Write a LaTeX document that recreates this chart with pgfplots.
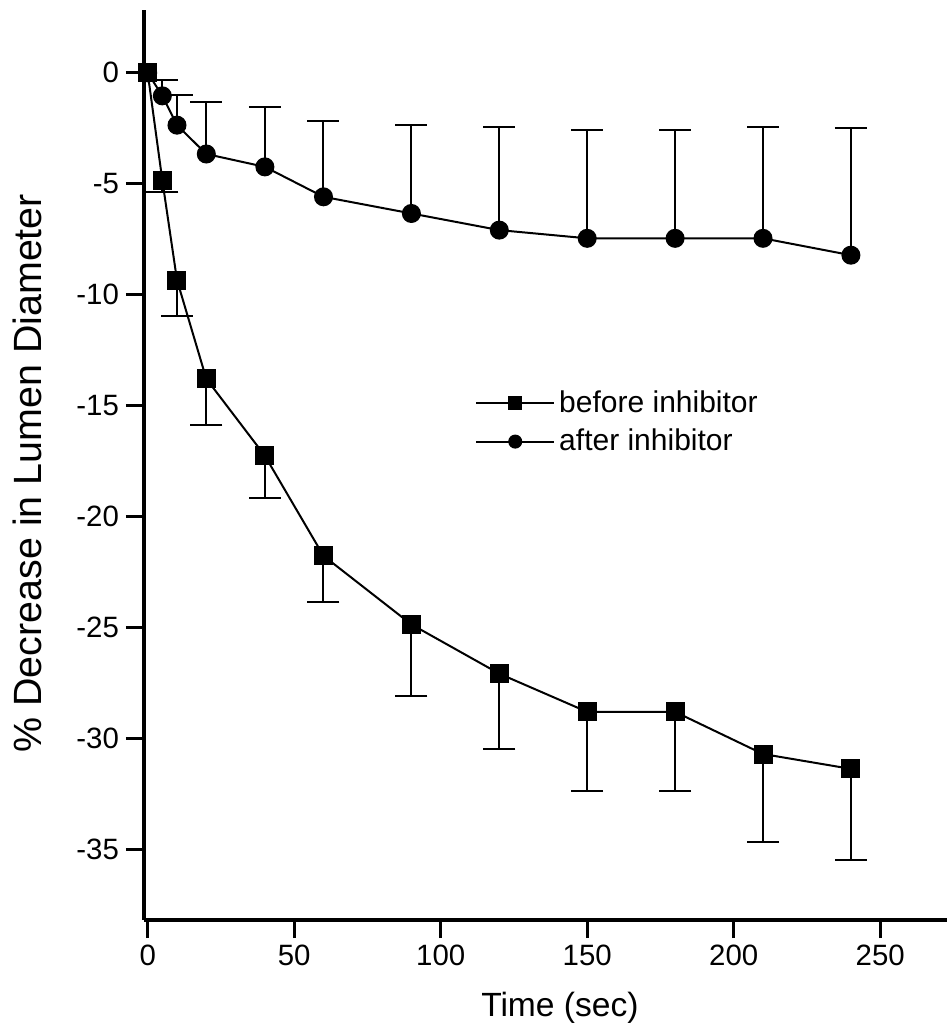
\documentclass[border=0pt]{standalone}
\usepackage{fontspec}
\setmainfont{Liberation Sans}
\usepackage{pgfplots}
\pgfplotsset{compat=1.18}
\begin{document}
\begin{tikzpicture}
\begin{axis}[
  scale only axis, width=401.5pt, height=455pt,
  xmin=-1.26, xmax=272.8, ymin=-38.18, ymax=2.83,
  axis lines=left,
  axis line style={-, line width=1.6pt},
  tick align=outside,
  major tick length=9pt,
  tick style={line width=1.5pt, black},
  xtick={0,50,...,250}, ytick={-35,-30,...,0},
  minor tick num=0,
  /pgf/number format/assume math mode=true,
  ticklabel style={font=\fontsize{14.7}{17}\selectfont},
  clip=false,
  xlabel={Time (sec)}, ylabel={\% Decrease in Lumen Diameter},
  xlabel style={font=\fontsize{16.8}{20}\selectfont, at={(axis description cs:0.518,-0.0967)}, anchor=center},
  ylabel style={font=\fontsize{19.7}{23}\selectfont, at={(axis description cs:-0.145,0.491)}, anchor=center},
  legend style={at={(axis description cs:0.412,0.547)}, anchor=west, draw=none, fill=none,
    font=\fontsize{15}{18}\selectfont, inner sep=0pt, row sep=3pt},
  legend cell align=left,
  legend image code/.code={\draw[mark repeat=2,mark phase=2,#1] plot coordinates {(0pt,0pt) (19.5pt,0pt) (39pt,0pt)};},
  legend image post style={mark size=3pt},
]
% error bars (lower) for before inhibitor
\addplot[forget plot, draw=none, mark=none,
  error bars/.cd, y dir=minus, y explicit,
  error bar style={line width=1pt, black},
  error mark options={rotate=90, mark size=8pt, line width=1pt, black}]
  coordinates {
  (5,-4.85) -= (0,0.51)
  (10,-9.34) -= (0,1.62)
  (20,-13.79) -= (0,2.09)
  (40,-17.26) -= (0,1.92)
  (60,-21.77) -= (0,2.10)
  (90,-24.86) -= (0,3.23)
  (120,-27.08) -= (0,3.41)
  (150,-28.80) -= (0,3.57)
  (180,-28.80) -= (0,3.57)
  (210,-30.70) -= (0,3.96)
  (240,-31.37) -= (0,4.12)
  };
% error bars (upper) for after inhibitor
\addplot[forget plot, draw=none, mark=none,
  error bars/.cd, y dir=plus, y explicit,
  error bar style={line width=1pt, black},
  error mark options={rotate=90, mark size=8pt, line width=1pt, black}]
  coordinates {
  (5,-1.04) += (0,0.70)
  (10,-2.36) += (0,1.34)
  (20,-3.66) += (0,2.34)
  (40,-4.24) += (0,2.69)
  (60,-5.59) += (0,3.43)
  (90,-6.34) += (0,3.98)
  (120,-7.09) += (0,4.64)
  (150,-7.46) += (0,4.89)
  (180,-7.46) += (0,4.90)
  (210,-7.46) += (0,5.00)
  (240,-8.22) += (0,5.73)
  };
\addplot[black, line width=1pt, mark=square*, mark size=4.25pt, mark options={solid}]
  coordinates {
  (0,0) (5,-4.85) (10,-9.34) (20,-13.79) (40,-17.26) (60,-21.77)
  (90,-24.86) (120,-27.08) (150,-28.80) (180,-28.80) (210,-30.70) (240,-31.37)
  };
\addlegendentry{before inhibitor}
\addplot[black, line width=1pt, mark=*, mark size=4.25pt, mark options={solid}]
  coordinates {
  (0,0) (5,-1.04) (10,-2.36) (20,-3.66) (40,-4.24) (60,-5.59)
  (90,-6.34) (120,-7.09) (150,-7.46) (180,-7.46) (210,-7.46) (240,-8.22)
  };
\addlegendentry{after inhibitor}
\addplot[forget plot, black, only marks, mark=square*, mark size=4.25pt] coordinates {(0,0)};
\end{axis}
\path[use as bounding box] ([xshift=-72pt,yshift=-56pt]current axis.south west) rectangle ([yshift=5pt]current axis.north east);
\end{tikzpicture}
\end{document}
